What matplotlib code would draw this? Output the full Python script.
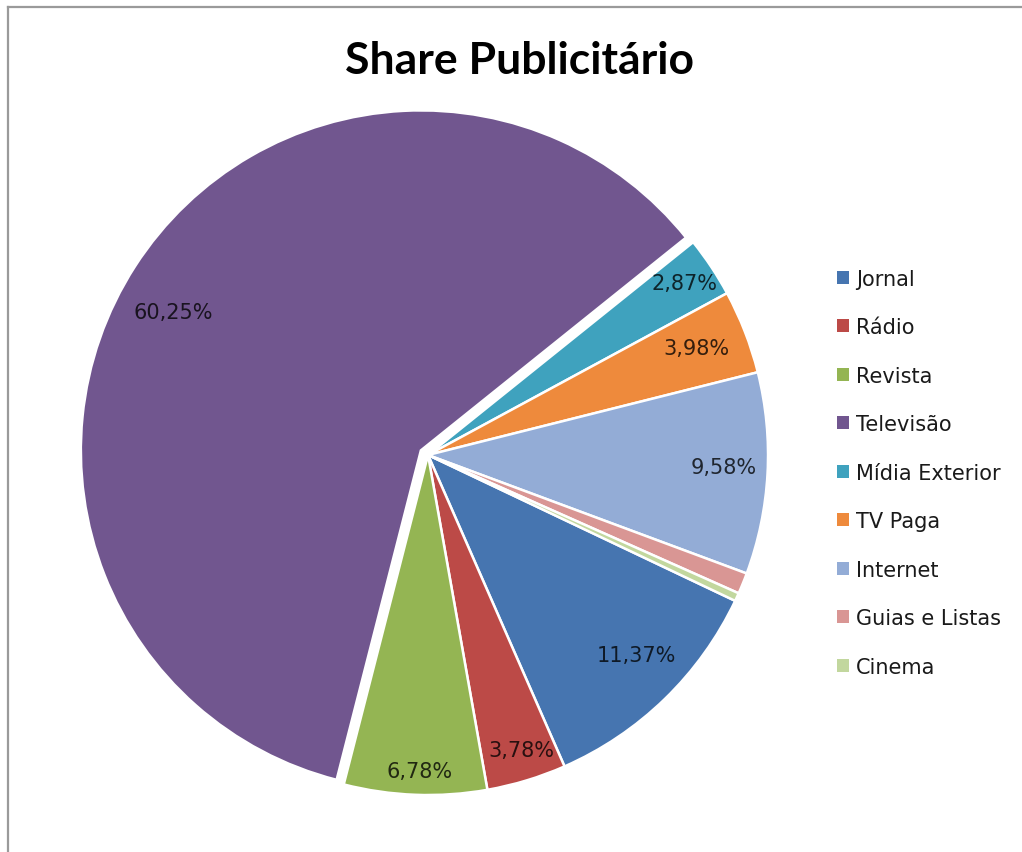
import matplotlib

matplotlib.use("Agg")
import matplotlib.pyplot as plt
import numpy as np
from matplotlib.lines import Line2D
from matplotlib.patches import Patch

plt.rcParams["font.family"] = ["DejaVu Sans"]

categories = [
    "Jornal",
    "Rádio",
    "Revista",
    "Televisão",
    "Mídia Exterior",
    "TV Paga",
    "Internet",
    "Guias e Listas",
    "Cinema",
]
shares = [11.37, 3.78, 6.78, 60.25, 2.87, 3.98, 9.58, 1.00, 0.39]
colors = [
    "#4675B0",
    "#BC4A47",
    "#94B553",
    "#71568F",
    "#3FA2BE",
    "#EE8A3C",
    "#93ACD6",
    "#D99694",
    "#C2D79E",
]
explode = [0, 0, 0, 0.025, 0, 0, 0, 0, 0]
# where each percentage label sits: fraction of radius and degrees off the wedge middle
label_dist = [0.85, 0.91, 0.93, 0.835, 0.91, 0.85, 0.87, 0, 0]
label_shift = [2.0, 0.7, 0.7, 3.6, 0.3, 0.5, 0.9, 0, 0]


def _darken(hex_color, k=0.22):
    rgb = np.array(matplotlib.colors.to_rgb(hex_color))
    return tuple(rgb * k)


fig = plt.figure(figsize=(10.22, 8.53), dpi=100)
fig.patch.set_facecolor("white")

# thin frame on the top and left of the chart area
fig.add_artist(Line2D([8 / 1022, 8 / 1022], [0, 1 - 8 / 853], color="#9a9a9a", lw=1.6))
fig.add_artist(Line2D([8 / 1022, 1], [1 - 8 / 853, 1 - 8 / 853], color="#9a9a9a", lw=1.6))

ax = fig.add_axes([0.0861, 0.0668, 0.6654, 0.7972])
wedges, _ = ax.pie(
    shares,
    colors=colors,
    explode=explode,
    startangle=-25.4,
    counterclock=False,
    radius=1.0,
    wedgeprops=dict(edgecolor="white", linewidth=1.8),
)
ax.set_xlim(-1, 1)
ax.set_ylim(-1, 1)
ax.set_aspect("auto")
ax.axis("off")
for w in wedges:
    w.set_clip_on(False)

for w, val, d, sh, col in zip(wedges, shares, label_dist, label_shift, colors):
    if d == 0:
        continue
    mid = np.deg2rad(0.5 * (w.theta1 + w.theta2) + sh)
    cx, cy = w.center
    ax.text(
        cx + d * np.cos(mid),
        cy + d * np.sin(mid),
        f"{val:.2f}%".replace(".", ","),
        ha="center",
        va="center",
        fontsize=15,
        color=_darken(col),
    )

fig.text(0.508, 0.929, "Share Publicitário", ha="center", va="center",
         fontsize=32, fontweight="bold", color="black", family=["Lato", "DejaVu Sans"])

handles = [Patch(facecolor=c, edgecolor="none") for c in colors]
fig.legend(
    handles,
    categories,
    loc="upper left",
    bbox_to_anchor=(0.801, 0.706),
    frameon=False,
    fontsize=15,
    handlelength=0.58,
    handleheight=0.58,
    handletextpad=0.3,
    labelspacing=1.368,
    labelcolor="#1a1a1a",
)

fig.savefig("out.png", dpi=100, facecolor="white")
